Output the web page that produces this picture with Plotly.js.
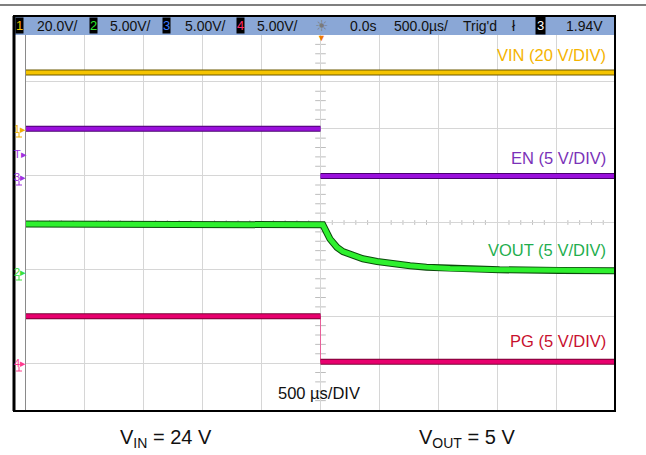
<!DOCTYPE html>
<html>
<head>
<meta charset="utf-8">
<script src="https://cdn.plot.ly/plotly-3.0.1.min.js"></script>
<style>html,body{margin:0;padding:0;background:#fff;}#chart{width:646px;height:455px;}</style>
</head>
<body>
<div id="chart"></div>
<script>
// ---------- data (time in µs, values in volts) ----------
const timeRange = [-2500, 2500];
const tFull = [-2500, 2500];
const tPre = [-2500, 0];
const tPost = [0, 2500];

const vinV = [24, 24];
const enPreV = [5.1, 5.1];
const enPostV = [0.05, 0.05];
const pgPreV = [5.0, 5.0];
const pgPostV = [0.15, 0.15];
const pgEdgeT = [0, 0];
const pgEdgeV = [5.0, 0.15];

const voutT = [-2500, 0, 20, 80, 140, 190, 280, 360, 480, 620, 760, 900, 1100, 1520, 2030, 2500];
const voutV = [5.0, 5.0, 4.9, 3.4, 2.5, 2.05, 1.6, 1.28, 0.99, 0.71, 0.53, 0.39, 0.25, 0.11, 0.03, 0.0];

const channelLabels = ['VIN (20 V/DIV)', 'EN (5 V/DIV)', 'VOUT (5 V/DIV)', 'PG (5 V/DIV)'];
const barScales = ['20.0V/', '5.00V/', '5.00V/', '5.00V/'];
const barMisc = ['0.0s', '500.0µs/', "Trig'd", '1.94V'];

// ---------- scope settings ----------
const DIVS = 4; // half-screen divisions
// volts/div and ground position in divisions
const ch1 = {vdiv: 20, gnd: 2.0};
const ch3 = {vdiv: 5, gnd: 0.98};
const ch2 = {vdiv: 5, gnd: -1.03};
const ch4 = {vdiv: 5, gnd: -3.0};
function rng(c){ return [(-DIVS - c.gnd) * c.vdiv, (DIVS - c.gnd) * c.vdiv]; }

const FONT = 'Liberation Sans, Arial, sans-serif';
const L = 26, R = 615, T = 35, B = 410;
const W = R - L, H = B - T;
const px = x => (x - L) / W;
const py = y => (B - y) / H;

function pair(x, y, yaxis, dark, bright, w){
  return [
    {x:x, y:y, yaxis:yaxis, mode:'lines', line:{color:dark, width:w+2}, hoverinfo:'skip', showlegend:false},
    {x:x, y:y, yaxis:yaxis, mode:'lines', line:{color:bright, width:w}, hoverinfo:'skip', showlegend:false}
  ];
}

const traces = [].concat(
  pair(tFull, vinV, 'y2', '#6b5800', '#f5c400', 4),
  pair(tPre, enPreV, 'y3', '#4a0070', '#9a10dc', 4),
  pair(tPost, enPostV, 'y3', '#4a0070', '#9a10dc', 4),
  [{x:pgEdgeT, y:pgEdgeV, yaxis:'y5', mode:'lines', line:{color:'#e8609a', width:1}, hoverinfo:'skip', showlegend:false}],
  pair(tPre, pgPreV, 'y5', '#7a0035', '#e8006e', 4),
  pair(tPost, pgPostV, 'y5', '#7a0035', '#e8006e', 4),
  pair(voutT, voutV, 'y4', '#0b4a0b', '#2ef02e', 5)
);

// ---------- shapes ----------
const shapes = [];
shapes.push({type:'line', xref:'paper', yref:'paper', x0:px(0), x1:px(646), y0:py(5), y1:py(5), line:{color:'#555', width:1.5}});
shapes.push({type:'rect', xref:'paper', yref:'paper', x0:px(15), x1:px(614), y0:py(17), y1:py(35), fillcolor:'#8aa7d6', line:{width:0}});
shapes.push({type:'rect', xref:'paper', yref:'paper', x0:px(14), x1:px(615), y0:py(16), y1:py(411), line:{color:'#000', width:2}});
shapes.push({type:'line', xref:'paper', yref:'paper', x0:px(14), x1:px(14), y0:py(16), y1:py(411), line:{color:'#000', width:3}});
// minor ticks on the centre cross (0.2 div)
for (let k = -25; k <= 25; k++) {
  if (k % 5 === 0) continue;
  const t = k * 100;
  shapes.push({type:'line', xref:'x', yref:'y', x0:t, x1:t, y0:-0.05, y1:0.05, line:{color:'#bdbdbd', width:1}, layer:'below'});
}
for (let k = -20; k <= 20; k++) {
  if (k % 5 === 0) continue;
  const v = k * 0.2;
  shapes.push({type:'line', xref:'x', yref:'y', x0:-45, x1:45, y0:v, y1:v, line:{color:'#bdbdbd', width:1}, layer:'below'});
}

// ---------- annotations ----------
function ann(text, x, y, o){
  o = o || {};
  return Object.assign({text:text, xref:'paper', yref:'paper', x:px(x), y:py(y), xanchor:'center', yanchor:'middle', showarrow:false,
    font:{family:FONT, size:o.size || 14, color:o.color || '#111'}}, o.extra || {});
}
const annotations = [];
const barY = 26;
// channel number boxes
const boxCols = ['#f5c400', '#2ee82e', '#3a7bff', '#ff2a6a'];
const boxX = [19, 93, 166, 240];
const scaleX = [57, 130, 205, 277];
for (let i = 0; i < 4; i++) {
  annotations.push(ann((i+1).toString(), boxX[i], barY, {size:13, color:boxCols[i], extra:{bgcolor:'#000', borderpad:0}}));
  annotations.push(ann(barScales[i], scaleX[i], barY, {size:14}));
}
annotations.push(ann('☀', 321, barY, {size:15, color:'#7a7a7a'}));
annotations.push(ann(barMisc[0], 363, barY, {size:14}));
annotations.push(ann(barMisc[1], 421, barY, {size:14}));
annotations.push(ann(barMisc[2], 480, barY, {size:14}));
annotations.push(ann('ł', 514, barY, {size:14}));
annotations.push(ann('3', 540, barY, {size:13, color:'#fff', extra:{bgcolor:'#000', borderpad:1}}));
annotations.push(ann(barMisc[3], 584, barY, {size:14}));
// trigger position marker
annotations.push(ann('▼', 321, 38, {size:9, color:'#f07a00'}));

// channel labels on the right
const labCols = ['#f5b400', '#7a32b8', '#1fae4f', '#c8102e'];
const labY = [55, 158, 250, 341];
for (let i = 0; i < 4; i++) {
  annotations.push(ann(channelLabels[i], 608, labY[i], {size:16.5, color:labCols[i], extra:{xanchor:'right'}}));
}
// left channel markers (text + small ground symbol drawn as lines)
const mk = [['1▸', 129, '#f0b000', true], ['T▸', 154, '#a030e0', false], ['3▸', 177, '#a030e0', true], ['2▸', 272, '#3ce03c', true], ['4▸', 363, '#ff3c8c', true]];
mk.forEach(m => {
  annotations.push(ann(m[0], 20, m[1], {size:11, color:m[2]}));
  if (m[3]) {
    shapes.push({type:'line', xref:'paper', yref:'paper', x0:px(19), x1:px(19), y0:py(m[1] + 4), y1:py(m[1] + 8), line:{color:m[2], width:1}});
    shapes.push({type:'line', xref:'paper', yref:'paper', x0:px(16), x1:px(22), y0:py(m[1] + 8), y1:py(m[1] + 8), line:{color:m[2], width:1}});
  }
});

annotations.push(ann('500 µs/DIV', 319, 393, {size:16.5, color:'#111'}));
annotations.push(ann('V<sub>IN</sub> = 24 V', 166, 438, {size:20, color:'#111'}));
annotations.push(ann('V<sub>OUT</sub> = 5 V', 467, 438, {size:20, color:'#111'}));

const hiddenY = r => ({overlaying:'y', range:r, visible:false, fixedrange:true});

const layout = {
  width:646, height:455,
  margin:{l:L, r:646-R, t:T, b:455-B, pad:0},
  paper_bgcolor:'#fff', plot_bgcolor:'#fff',
  showlegend:false,
  xaxis:{range:timeRange, dtick:500, tick0:0, showgrid:true, gridcolor:'#d6d6d6', gridwidth:1,
         zeroline:false, showticklabels:false, ticks:'', showline:false},
  yaxis:{range:[-DIVS, DIVS], dtick:1, tick0:0, showgrid:true, gridcolor:'#d6d6d6', gridwidth:1,
         zeroline:false, showticklabels:false, ticks:'', showline:true, linecolor:'#8a8a8a', linewidth:1},
  yaxis2:hiddenY(rng(ch1)),
  yaxis3:hiddenY(rng(ch3)),
  yaxis4:hiddenY(rng(ch2)),
  yaxis5:hiddenY(rng(ch4)),
  shapes:shapes,
  annotations:annotations,
  font:{family:FONT}
};

Plotly.newPlot('chart', traces, layout, {staticPlot:true, displayModeBar:false});
</script>
</body>
</html>
